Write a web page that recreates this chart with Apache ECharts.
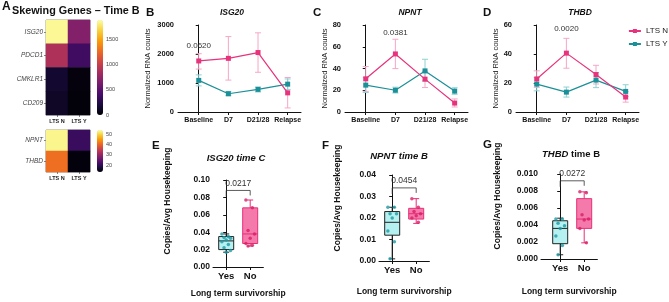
<!DOCTYPE html>
<html>
<head>
<meta charset="utf-8">
<script src="https://cdn.jsdelivr.net/npm/echarts@6/dist/echarts.min.js"></script>
<style>
html,body{margin:0;padding:0;background:#fff;}
#main{width:669px;height:302px;}
</style>
</head>
<body>
<div id="main"></div>
<script>
// ---- A: heatmap, time B ----
var hmGroups = ['LTS N', 'LTS Y'];
var hmGenes1 = ['ISG20', 'PDCD1', 'CMKLR1', 'CD209'];
var hmVals1 = [[1850, 680], [880, 370], [150, 35], [120, 20]];
var hmGenes2 = ['NPNT', 'THBD'];
var hmVals2 = [[53, 21], [41, 14]];

// ---- B/C/D: time course (mean, error bar top, error bar bottom) ----
var timePoints = ['Baseline', 'D7', 'D21/28', 'Relapse'];
var isg20N = [1760, 1850, 2050, 660];
var isg20NHi = [2010, 2600, 2730, 1190];
var isg20NLo = [1480, 1100, 1370, 140];
var isg20Y = [1090, 630, 780, 960];
var isg20YHi = [1280, 710, 860, 1140];
var isg20YLo = [900, 560, 690, 770];
var npntN = [30.5, 53.4, 30.2, 8.2];
var npntNHi = [41.8, 66.9, 37.5, 12.0];
var npntNLo = [19.0, 39.9, 22.5, 4.6];
var npntY = [24.7, 20.0, 37.8, 19.2];
var npntYHi = [31.5, 22.8, 48.5, 22.3];
var npntYLo = [18.0, 17.5, 28.5, 16.3];
var thbdN = [22.8, 40.6, 25.8, 10.3];
var thbdNHi = [28.4, 50.8, 32.2, 14.0];
var thbdNLo = [17.0, 30.2, 19.3, 6.8];
var thbdY = [19.2, 13.7, 22.0, 14.2];
var thbdYHi = [23.8, 17.2, 27.2, 18.8];
var thbdYLo = [14.6, 10.3, 16.8, 10.6];
var lineP = ['0.0620', '0.0381', '0.0020'];

// ---- E/F/G: box plots [min, q1, median, q3, max] + points ----
var boxGroups = ['Yes', 'No'];
var isg20CYesBox = [0.017, 0.020, 0.030, 0.035, 0.038];
var isg20CNoBox = [0.024, 0.027, 0.038, 0.068, 0.077];
var isg20CYesPts = [0.038, 0.035, 0.034, 0.033, 0.031, 0.029, 0.026, 0.022, 0.019, 0.017];
var isg20CNoPts = [0.077, 0.068, 0.042, 0.038, 0.033, 0.027, 0.025, 0.024];
var npntBYesBox = [0.001, 0.012, 0.018, 0.023, 0.025];
var npntBNoBox = [0.0175, 0.0195, 0.022, 0.0245, 0.029];
var npntBYesPts = [0.025, 0.025, 0.022, 0.022, 0.020, 0.014, 0.009, 0.001];
var npntBNoPts = [0.029, 0.025, 0.023, 0.022, 0.021, 0.020, 0.018];
var thbdBYesBox = [0.0005, 0.0018, 0.0036, 0.0045, 0.0048];
var thbdBNoBox = [0.0019, 0.0036, 0.0047, 0.0071, 0.0079];
var thbdBYesPts = [0.0047, 0.0047, 0.0042, 0.0039, 0.0036, 0.0027, 0.0016, 0.0005];
var thbdBNoPts = [0.0079, 0.0078, 0.0052, 0.0047, 0.0046, 0.0036, 0.0019];
var boxP = ['0.0217', '0.0454', '0.0272'];
var bracketTop = [0.088, 0.034, 0.0092];

var FONT = '"Liberation Sans", Arial, sans-serif';
var PINK = '#e8327c', TEAL = '#1b9098';
var PINK_ERR = '#f6a6c7', TEAL_ERR = '#8fd0d3';
var INFERNO = ['#000004', '#1b0c41', '#4a0c6b', '#781c6d', '#a52c60', '#cf4446', '#ed6925', '#fb9b06', '#f7d13d', '#fcffa4'];

var myChart = echarts.init(document.getElementById('main'));

var grids = [], xAxes = [], yAxes = [], series = [], graphics = [];

function addGrid(g) {
    g.outerBoundsMode = 'none';
    grids.push(g);
    return grids.length - 1;
}

function heatmapPart(genes, vals, top, height, cmin, cmax, step) {
    var gi = addGrid({left: 46, top: top, width: 44, height: height, show: true, borderColor: '#444', borderWidth: 0.6, backgroundColor: 'transparent'});
    xAxes.push({gridIndex: gi, type: 'category', data: hmGroups,
        axisLine: {show: false}, axisTick: {show: true, length: 2, alignWithLabel: true, lineStyle: {color: '#333', width: 0.6}},
        axisLabel: {fontSize: 5.5, fontWeight: 'bold', color: '#222', margin: 3, fontFamily: FONT}});
    yAxes.push({gridIndex: gi, type: 'category', data: genes, inverse: true,
        axisLine: {show: false}, axisTick: {show: true, length: 2, alignWithLabel: true, lineStyle: {color: '#333', width: 0.6}},
        axisLabel: {fontSize: 6.5, fontStyle: 'italic', color: '#444', margin: 3, fontFamily: FONT}});
    var d = [];
    for (var i = 0; i < genes.length; i++) {
        for (var j = 0; j < hmGroups.length; j++) d.push([j, i, vals[i][j]]);
    }
    series.push({type: 'heatmap', xAxisIndex: gi, yAxisIndex: gi, data: d, itemStyle: {borderWidth: 0}, silent: true});
    var si = series.length - 1;
    // colour bar labels
    var ci = addGrid({left: 97, top: top, width: 6, height: height});
    xAxes.push({gridIndex: ci, type: 'value', show: false});
    var yA = {gridIndex: ci, type: 'value', min: cmin, max: cmax, position: 'right',
        axisLine: {show: false}, splitLine: {show: false},
        axisTick: {show: true, inside: true, length: 1.5, lineStyle: {color: '#fff', width: 0.6}},
        axisLabel: {fontSize: 5.5, color: '#444', margin: 3, fontFamily: FONT, showMaxLabel: false,
            showMinLabel: cmin % step === 0,
            formatter: function (v) { return v % step === 0 ? String(v) : ''; }}};
    if (cmin % step === 0) yA.interval = step;
    yAxes.push(yA);
    return {type: 'continuous', seriesIndex: si, min: cmin, max: cmax, inRange: {color: INFERNO},
        left: 97, top: top, itemWidth: 6, itemHeight: height, padding: 0, calculable: false,
        hoverLink: false, text: null, orient: 'vertical'};
}

var visualMaps = [
    heatmapPart(hmGenes1, hmVals1, 20, 95, 0, 1880, 500),
    heatmapPart(hmGenes2, hmVals2, 130, 42, 13.5, 54, 10)
];

function errRender(color) {
    return function (params, api) {
        var x = api.value(0);
        var lo = api.coord([x, api.value(1)]);
        var hi = api.coord([x, api.value(2)]);
        var s = {stroke: color, lineWidth: 1};
        return {type: 'group', children: [
            {type: 'line', shape: {x1: lo[0], y1: lo[1], x2: hi[0], y2: hi[1]}, style: s},
            {type: 'line', shape: {x1: lo[0] - 3, y1: lo[1], x2: lo[0] + 3, y2: lo[1]}, style: s},
            {type: 'line', shape: {x1: hi[0] - 3, y1: hi[1], x2: hi[0] + 3, y2: hi[1]}, style: s}
        ]};
    };
}

function textRender(txt, size) {
    return function (params, api) {
        var p = api.coord([api.value(0), api.value(1)]);
        return {type: 'text', x: p[0], y: p[1], style: {text: txt, font: size + 'px ' + FONT, fill: '#333', align: 'center', verticalAlign: 'middle'}};
    };
}

var axisBlack = {lineStyle: {color: '#111', width: 1}};

function lineChart(left, max, interval, nameGap, n, nHi, nLo, y, yHi, yLo, pText, pX, pV) {
    var gi = addGrid({left: left, top: 25, width: 123, height: 87});
    xAxes.push({gridIndex: gi, type: 'value', min: -0.7, max: 3.45,
        axisLine: axisBlack, splitLine: {show: false},
        axisTick: {show: true, length: 3, customValues: [0, 1, 2, 3], lineStyle: {color: '#111'}},
        axisLabel: {customValues: [0, 1, 2, 3], fontSize: 7, fontWeight: 'bold', color: '#111', margin: 5, fontFamily: FONT,
            formatter: function (v) { return timePoints[v]; }}});
    yAxes.push({gridIndex: gi, type: 'value', min: 0, max: max, interval: interval,
        axisLine: {show: true, lineStyle: {color: '#111', width: 1}}, splitLine: {show: false},
        axisTick: {show: true, length: 3, lineStyle: {color: '#111'}},
        axisLabel: {fontSize: 7.5, fontWeight: 'bold', color: '#111', margin: 4, fontFamily: FONT,
            formatter: function (v) { return String(v); }},
        name: 'Normalized RNA counts', nameLocation: 'middle', nameGap: nameGap,
        nameTextStyle: {fontSize: 7.5, color: '#222', fontFamily: FONT}});
    function pts(a) { return a.map(function (v, i) { return [i, v]; }); }
    function errs(lo, hi) { return lo.map(function (v, i) { return [i, v, hi[i]]; }); }
    series.push({type: 'custom', xAxisIndex: gi, yAxisIndex: gi, renderItem: errRender(PINK_ERR), data: errs(nLo, nHi), encode: {x: 0, y: [1, 2]}, silent: true, z: 1});
    series.push({type: 'custom', xAxisIndex: gi, yAxisIndex: gi, renderItem: errRender(TEAL_ERR), data: errs(yLo, yHi), encode: {x: 0, y: [1, 2]}, silent: true, z: 1});
    series.push({type: 'line', name: 'LTS Y', xAxisIndex: gi, yAxisIndex: gi, data: pts(y), symbol: 'rect', symbolSize: 5,
        lineStyle: {color: TEAL, width: 1.2}, itemStyle: {color: TEAL}, z: 3, animation: false});
    series.push({type: 'line', name: 'LTS N', xAxisIndex: gi, yAxisIndex: gi, data: pts(n), symbol: 'rect', symbolSize: 5,
        lineStyle: {color: PINK, width: 1.2}, itemStyle: {color: PINK}, z: 4, animation: false});
    series.push({type: 'custom', xAxisIndex: gi, yAxisIndex: gi, renderItem: textRender(pText, 8), data: [[pX, pV]], silent: true, z: 5});
}

lineChart(178, 3000, 1000, 26, isg20N, isg20NHi, isg20NLo, isg20Y, isg20YHi, isg20YLo, lineP[0], 0, 2280);
lineChart(345, 80, 20, 14, npntN, npntNHi, npntNLo, npntY, npntYHi, npntYLo, lineP[1], 1, 72.5);
lineChart(516, 60, 20, 15, thbdN, thbdNHi, thbdNLo, thbdY, thbdYHi, thbdYLo, lineP[2], 1, 57.2);

function boxRender(fill, stroke) {
    return function (params, api) {
        var x = api.value(0);
        var pMin = api.coord([x, api.value(1)]), pQ1 = api.coord([x, api.value(2)]), pMed = api.coord([x, api.value(3)]),
            pQ3 = api.coord([x, api.value(4)]), pMax = api.coord([x, api.value(5)]);
        var cx = pMin[0], hw = 7.5, cw = 3;
        var s = {stroke: stroke, lineWidth: 1};
        return {type: 'group', children: [
            {type: 'line', shape: {x1: cx, y1: pQ3[1], x2: cx, y2: pMax[1]}, style: s},
            {type: 'line', shape: {x1: cx, y1: pQ1[1], x2: cx, y2: pMin[1]}, style: s},
            {type: 'line', shape: {x1: cx - cw, y1: pMax[1], x2: cx + cw, y2: pMax[1]}, style: s},
            {type: 'line', shape: {x1: cx - cw, y1: pMin[1], x2: cx + cw, y2: pMin[1]}, style: s},
            {type: 'rect', shape: {x: cx - hw, y: pQ3[1], width: hw * 2, height: pQ1[1] - pQ3[1]}, style: {fill: fill, stroke: stroke, lineWidth: 1}},
            {type: 'line', shape: {x1: cx - hw, y1: pMed[1], x2: cx + hw, y2: pMed[1]}, style: s}
        ]};
    };
}

function bracketRender(txt) {
    return function (params, api) {
        var top = api.value(0);
        var a = api.coord([0, top]), b = api.coord([1, top]);
        return {type: 'group', children: [
            {type: 'polyline', shape: {points: [[a[0], a[1] + 6], [a[0], a[1]], [b[0], b[1]], [b[0], b[1] + 5]]}, style: {stroke: '#333', lineWidth: 0.8, fill: null}},
            {type: 'text', x: (a[0] + b[0]) / 2, y: a[1] - 7, style: {text: txt, font: '8.5px ' + FONT, fill: '#333', align: 'center', verticalAlign: 'middle'}}
        ]};
    };
}

function jitter(a, idx) {
    return a.map(function (v, i) { return [idx + ((i * 3) % 5 - 2) * 0.09, v]; });
}

function boxChart(left, top, height, max, interval, digits, xMin, nameGap, yesBox, noBox, yesPts, noPts, pText, bTop) {
    var gi = addGrid({left: left, top: top, width: (1.55 - xMin) * 24, height: height});
    xAxes.push({gridIndex: gi, type: 'value', min: xMin, max: 1.55,
        axisLine: axisBlack, splitLine: {show: false},
        axisTick: {show: true, length: 3, customValues: [0, 1], lineStyle: {color: '#111'}},
        axisLabel: {customValues: [0, 1], fontSize: 9.5, fontWeight: 'bold', color: '#111', margin: 4, fontFamily: FONT,
            formatter: function (v) { return boxGroups[v]; }},
        name: 'Long term survivorship', nameLocation: 'middle', nameGap: nameGap,
        nameTextStyle: {fontSize: 8.5, fontWeight: 'bold', color: '#111', fontFamily: FONT}});
    yAxes.push({gridIndex: gi, type: 'value', min: 0, max: max, interval: interval,
        axisLine: {show: true, lineStyle: {color: '#111', width: 1}}, splitLine: {show: false},
        axisTick: {show: true, length: 3, lineStyle: {color: '#111'}},
        axisLabel: {fontSize: 8.5, fontWeight: 'bold', color: '#111', margin: 3, fontFamily: FONT,
            formatter: function (v) { return v.toFixed(digits); }}});
    series.push({type: 'custom', xAxisIndex: gi, yAxisIndex: gi, renderItem: boxRender('#b5f1f1', '#222'), data: [[0].concat(yesBox)], encode: {x: 0, y: [1, 5]}, silent: true, z: 1});
    series.push({type: 'custom', xAxisIndex: gi, yAxisIndex: gi, renderItem: boxRender('#f47aab', '#e62e78'), data: [[1].concat(noBox)], encode: {x: 0, y: [1, 5]}, silent: true, z: 1});
    series.push({type: 'scatter', xAxisIndex: gi, yAxisIndex: gi, data: jitter(yesPts, 0), symbolSize: 3.5, itemStyle: {color: '#1b9aa3'}, z: 3, silent: true});
    series.push({type: 'scatter', xAxisIndex: gi, yAxisIndex: gi, data: jitter(noPts, 1), symbolSize: 3.5, itemStyle: {color: '#d91e66'}, z: 3, silent: true});
    series.push({type: 'custom', xAxisIndex: gi, yAxisIndex: gi, renderItem: bracketRender(pText), data: [[bTop]], encode: {y: 0}, silent: true, z: 4});
}

boxChart(213, 180, 87, 0.10, 0.02, 2, -0.55, 22, isg20CYesBox, isg20CNoBox, isg20CYesPts, isg20CNoPts, boxP[0], bracketTop[0]);
boxChart(379, 175, 86, 0.04, 0.01, 2, -0.55, 26, npntBYesBox, npntBNoBox, npntBYesPts, npntBNoPts, boxP[1], bracketTop[1]);
boxChart(541, 174, 85, 0.010, 0.002, 3, -0.8, 28, thbdBYesBox, thbdBNoBox, thbdBYesPts, thbdBNoPts, boxP[2], bracketTop[2]);

function txt(x, y, s, font, align, rot, rich) {
    var g = {type: 'text', x: x, y: y, rotation: rot || 0, silent: true,
        style: {text: s, font: font, fill: '#111', align: align || 'left', verticalAlign: 'middle'}};
    if (rich) g.style.rich = rich;
    return g;
}
var BI = 'italic bold 8.5px ' + FONT;
graphics.push(
    txt(2, 7, 'A', 'bold 12px ' + FONT),
    txt(12, 11, 'Skewing Genes \u2013 Time B', 'bold 10.8px ' + FONT),
    txt(146, 13, 'B', 'bold 11.5px ' + FONT),
    txt(313, 13, 'C', 'bold 11.5px ' + FONT),
    txt(483, 13, 'D', 'bold 11.5px ' + FONT),
    txt(152, 146, 'E', 'bold 11.5px ' + FONT),
    txt(322, 146, 'F', 'bold 11.5px ' + FONT),
    txt(483, 145, 'G', 'bold 11.5px ' + FONT),
    txt(232, 13, 'ISG20', BI, 'center'),
    txt(410, 13, 'NPNT', BI, 'center'),
    txt(580, 13, 'THBD', BI, 'center'),
    txt(236, 158, 'ISG20 time C', 'italic bold 9.5px ' + FONT, 'center'),
    txt(399, 156, 'NPNT time B', 'italic bold 9.5px ' + FONT, 'center'),
    txt(571, 154, '{i|THBD} {n|time B}', 'bold 9.5px ' + FONT, 'center', 0,
        {i: {fontStyle: 'italic', fontWeight: 'bold', fontSize: 9.5, fontFamily: FONT, fill: '#111'},
         n: {fontWeight: 'bold', fontSize: 9.5, fontFamily: FONT, fill: '#111'}}),
    txt(168, 201, 'Copies/Avg Housekeeping', 'bold 8.5px ' + FONT, 'center', Math.PI / 2),
    txt(338, 198, 'Copies/Avg Housekeeping', 'bold 8.5px ' + FONT, 'center', Math.PI / 2),
    txt(498, 196, 'Copies/Avg Housekeeping', 'bold 8.5px ' + FONT, 'center', Math.PI / 2)
);

var option = {
    backgroundColor: '#fff',
    animation: false,
    textStyle: {fontFamily: FONT},
    grid: grids,
    xAxis: xAxes,
    yAxis: yAxes,
    visualMap: visualMaps,
    legend: {data: ['LTS N', 'LTS Y'], orient: 'vertical', right: 1, top: 27, itemWidth: 12, itemHeight: 5, itemGap: 5,
        padding: 0, textStyle: {fontSize: 8, color: '#222', fontFamily: FONT}, selectedMode: false},
    series: series,
    graphic: graphics
};

myChart.setOption(option);
</script>
</body>
</html>
